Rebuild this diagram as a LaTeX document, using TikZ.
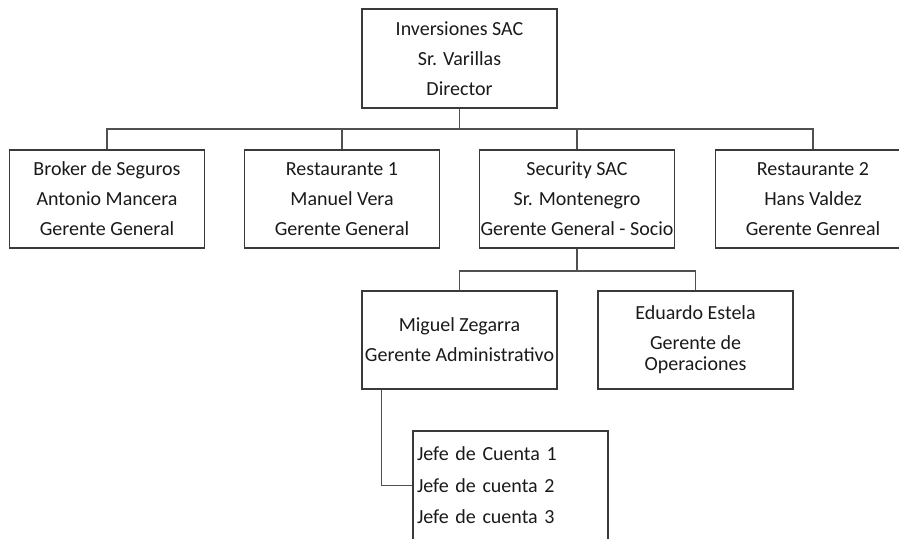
\documentclass[tikz,border=0pt]{standalone}
\usepackage{fontspec}
\setmainfont{Carlito}
\definecolor{boxline}{HTML}{3A3A3A}
\definecolor{linkline}{HTML}{505050}
\definecolor{txt}{HTML}{1A1A1A}
\begin{document}
\begin{tikzpicture}[x=1pt,y=-1pt,
  orgbox/.style={draw=boxline, line width=1.3pt, rectangle, inner sep=0pt,
    minimum width=195pt, text=txt, align=center,
    font=\fontsize{20}{30}\selectfont},
  link/.style={draw=linkline, line width=1.3pt}]
\useasboundingbox (0,0) rectangle (899,538);
\begin{scope}
\clip (0,0) rectangle (899,538);

% top level
\node[orgbox, minimum height=99pt] (inv) at (459.5,58.5)
  {Inversiones SAC\\Sr. Varillas\\Director};

% second level
\node[orgbox, minimum height=98pt] (broker) at (107,199)
  {Broker de Seguros\\Antonio Mancera\\Gerente General};
\node[orgbox, minimum height=98pt] (rest1) at (342,199)
  {Restaurante 1\\Manuel Vera\\Gerente General};
\node[orgbox, minimum height=98pt] (sec) at (577,199)
  {Security SAC\\Sr. Montenegro\\Gerente General - Socio};
\node[orgbox, minimum height=98pt] (rest2) at (813,199)
  {Restaurante 2\\Hans Valdez\\Gerente Genreal};

% third level
\node[orgbox, minimum height=98pt] (miguel) at (459.5,340)
  {Miguel Zegarra\\Gerente Administrativo};
\node[orgbox, minimum height=98pt] (eduardo) at (695.5,340)
  {Eduardo Estela\\Gerente de\\[-9pt]Operaciones};

% account heads
\node[orgbox, minimum height=109pt, align=left, text width=187pt,
  inner xsep=4pt, font=\fontsize{20}{31.5}\selectfont] (jefes) at (510.5,485.5)
  {Jefe de Cuenta 1\\Jefe de cuenta 2\\Jefe de cuenta 3};

% connectors
\coordinate (bus1) at (0,129);
\coordinate (bus2) at (0,271);
\draw[link] (inv.south) -- (inv.south |- bus1);
\draw[link] (broker.north) -- (broker.north |- bus1) -- (rest2.north |- bus1) -- (rest2.north);
\draw[link] (rest1.north) -- (rest1.north |- bus1);
\draw[link] (sec.north) -- (sec.north |- bus1);
\draw[link] (sec.south) -- (sec.south |- bus2);
\draw[link] (miguel.north) -- (miguel.north |- bus2) -- (eduardo.north |- bus2) -- (eduardo.north);
\draw[link] ([xshift=20pt]miguel.south west) |- (jefes.west);
\end{scope}
\end{tikzpicture}
\end{document}
